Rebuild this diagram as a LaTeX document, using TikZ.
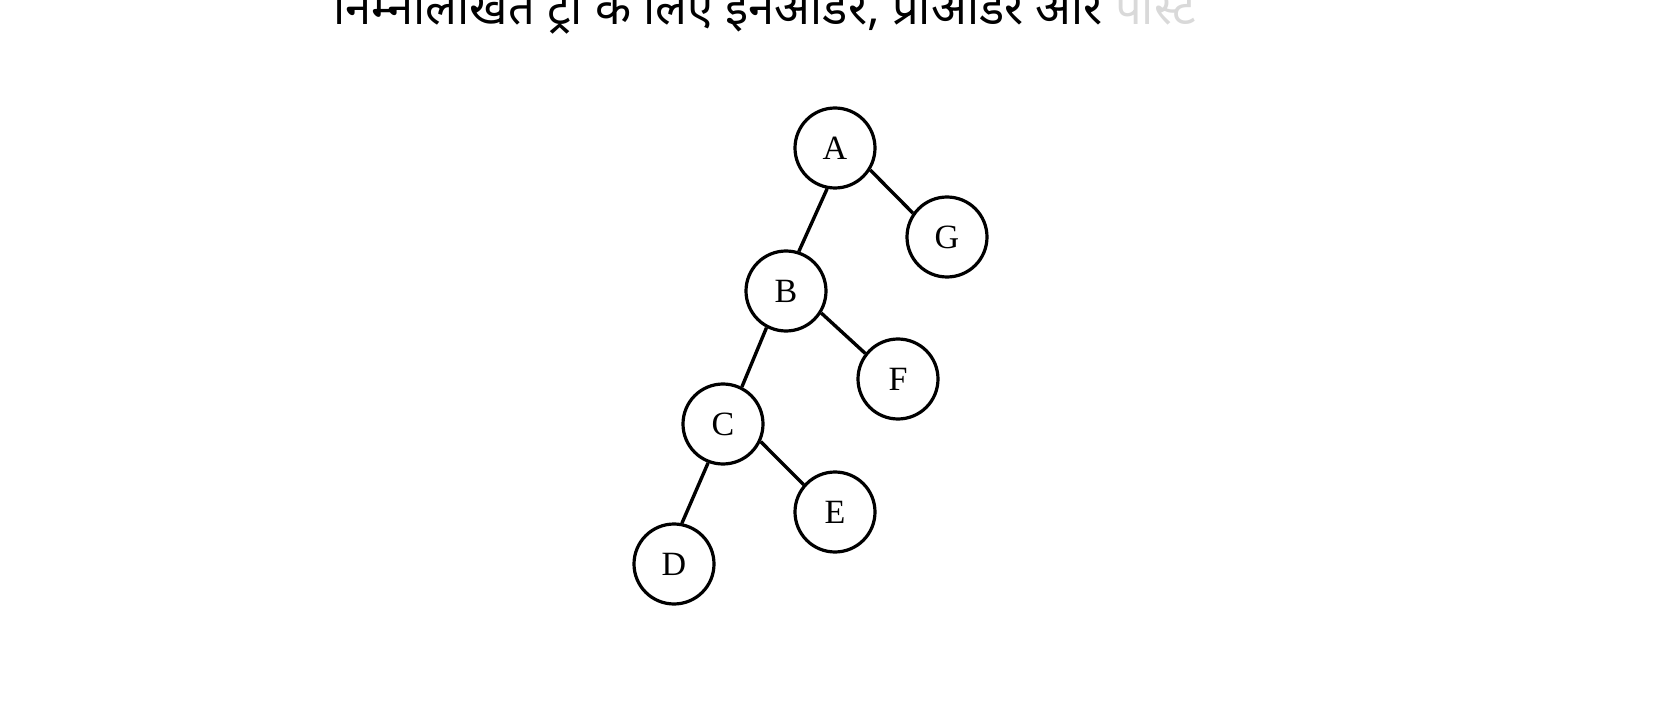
\documentclass[tikz,border=0pt]{standalone}
\usepackage{fontspec}
\setmainfont{Liberation Serif}
\newfontfamily\devfont[Script=Devanagari]{Noto Sans}
\begin{document}
\begin{tikzpicture}[x=1pt,y=-1pt,
  tnode/.style={circle,draw,line width=3.2pt,minimum size=80pt,inner sep=0pt,font=\fontsize{34}{34}\selectfont},
  tedge/.style={line width=3.4pt}]
\useasboundingbox (0,0) rectangle (1658,719);
\clip (0,0) rectangle (1658,719);
\node[anchor=base west,inner sep=0pt,font=\devfont\fontsize{47}{47}\selectfont] (title) at (333,25) {निम्नलिखित ट्री के लिए इनऑर्डर, प्रीऑर्डर और \textcolor{black!15}{पोस्ट}};
\node[tnode] (A) at (835,148) {A};
\node[tnode] (G) at (947,237) {G};
\node[tnode] (B) at (786,291) {B};
\node[tnode] (F) at (898,379) {F};
\node[tnode] (C) at (723,424) {C};
\node[tnode] (E) at (835,512) {E};
\node[tnode] (D) at (674,564) {D};
\draw[tedge] (A.-101) -- (B.72);
\draw[tedge] (A.-32) -- (G.145);
\draw[tedge] (B.-118) -- (C.63);
\draw[tedge] (B.-32) -- (F.142);
\draw[tedge] (C.-111) -- (D.79);
\draw[tedge] (C.-25) -- (E.139);
\end{tikzpicture}
\end{document}
